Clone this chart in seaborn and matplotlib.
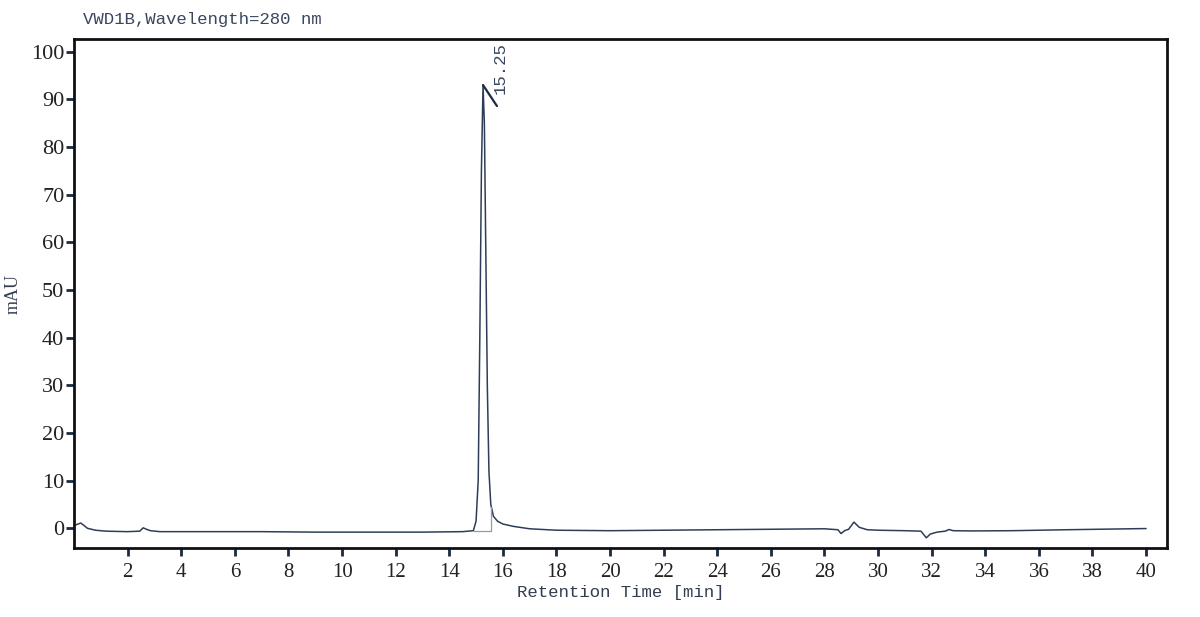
import numpy as np
import pandas as pd
import seaborn as sns
import matplotlib.pyplot as plt

# Trace (retention time in min, signal in mAU)
times = [0.0, 0.1, 0.25, 0.35, 0.5, 0.8, 1.2, 2.0, 2.45, 2.58, 2.7, 2.85, 3.2,
         5.0, 7.0, 9.0, 11.0, 13.0, 14.5, 14.9, 15.0, 15.08, 15.14, 15.2, 15.26,
         15.31, 15.36, 15.42, 15.48, 15.55, 15.65, 15.8, 16.0, 16.4, 17.0, 18.0,
         20.0, 22.0, 24.0, 26.0, 28.0, 28.5, 28.62, 28.75, 28.9, 29.1, 29.3, 29.6,
         30.0, 31.0, 31.6, 31.8, 31.95, 32.2, 32.5, 32.65, 32.8, 33.5, 35.0, 37.0, 40.0]
signal = [0.5, 0.8, 1.1, 0.7, 0.0, -0.4, -0.6, -0.7, -0.6, 0.1, -0.2, -0.5, -0.7,
          -0.7, -0.7, -0.8, -0.8, -0.8, -0.7, -0.5, 1.5, 10.0, 40.0, 75.0, 93.0,
          85.0, 60.0, 30.0, 12.0, 5.0, 2.5, 1.5, 0.9, 0.4, -0.1, -0.4,
          -0.5, -0.4, -0.3, -0.2, -0.1, -0.3, -1.1, -0.5, -0.2, 1.3, 0.2, -0.3,
          -0.4, -0.5, -0.6, -2.0, -1.2, -0.8, -0.6, -0.25, -0.5, -0.55, -0.5, -0.3, -0.05]

# Integrated peak
peak_label = "15.25"
peak_apex = (15.26, 93.0)
peak_start = 14.93
peak_end = 15.56
peak_base = -0.5

x_ticks = list(range(2, 41, 2))
y_ticks = list(range(0, 101, 10))

sns.set_style("ticks")
plt.rcParams["font.family"] = ["Liberation Serif", "DejaVu Serif"]
mono = ["Liberation Mono", "DejaVu Sans Mono"]

navy = "#1b2a40"
trace = "#2e3e58"

fig = plt.figure(figsize=(12, 6.17), dpi=100)
ax = fig.add_axes([0.0617, 0.1123, 0.9108, 0.824])

df = pd.DataFrame({"time": times, "mAU": signal})
sns.lineplot(data=df, x="time", y="mAU", ax=ax, color=trace, linewidth=1.1)

# baseline under the peak and drop line
ax.plot([peak_start, peak_end], [peak_base, peak_base], color="#9a9a9a", lw=0.9)
ax.plot([peak_end, peak_end], [peak_base, 4.5], color="#9a9a9a", lw=0.9)

# peak marker and label
ax.plot([peak_apex[0], 15.78], [peak_apex[1], 88.6], color=navy, lw=1.6)
ax.text(15.9, 91.2, peak_label, rotation=90, ha="center", va="bottom",
        fontsize=12.5, family=mono, color="#3a4660")

ax.set_xlim(0, 40.78)
ax.set_ylim(-4.07, 102.6)
ax.set_xticks(x_ticks)
ax.set_yticks(y_ticks)
ax.tick_params(direction="out", length=6, width=2, color=navy,
               labelcolor="#222222")
ax.tick_params(axis="x", labelsize=15, pad=5)
ax.tick_params(axis="y", labelsize=16, pad=1)
for s in ax.spines.values():
    s.set_linewidth(2)
    s.set_color("#111111")

ax.set_xlabel("Retention Time [min]", fontsize=12.5, family=mono, color="#333d50")
ax.xaxis.set_label_coords(0.5, -0.073)
ax.set_ylabel("mAU", fontsize=13, color="#333d50")
ax.yaxis.set_label_coords(-0.048, 0.5)
ax.text(0.0083, 1.038, "VWD1B,Wavelength=280 nm", transform=ax.transAxes,
        ha="left", va="center", fontsize=12.5, family=mono, color="#3a4660")

fig.savefig("out.png", dpi=100)
